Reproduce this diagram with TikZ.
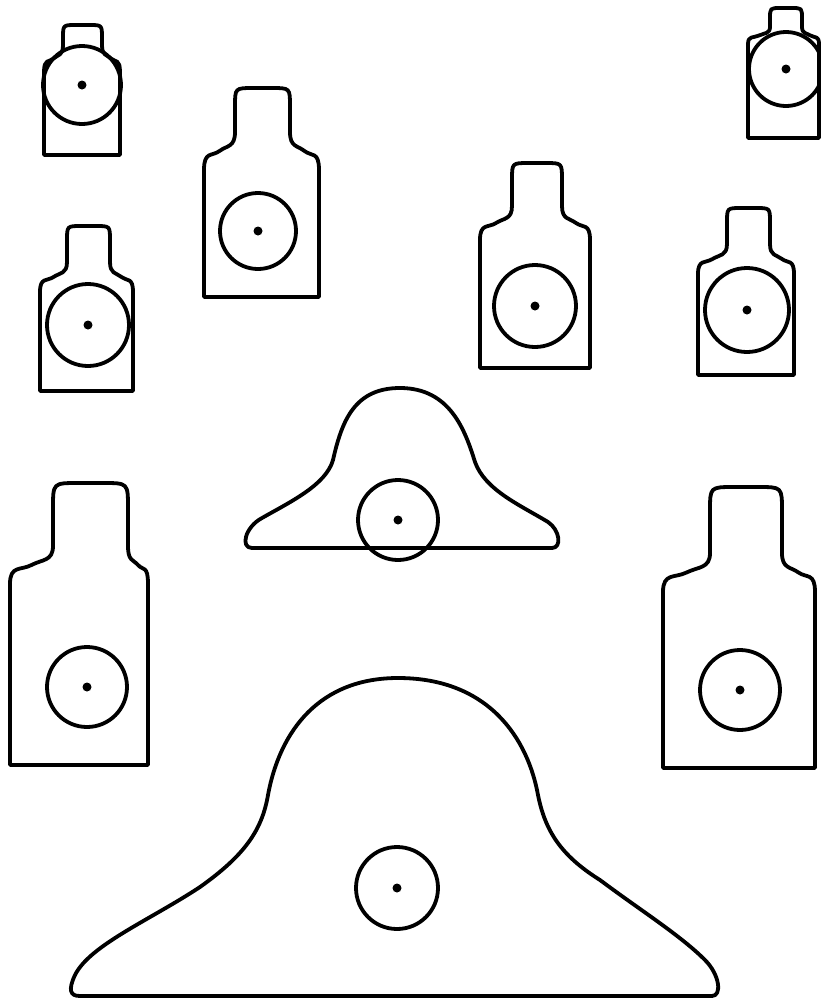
\documentclass[tikz,border=0pt]{standalone}
\usepackage{tikz}

% body xl xr, head hl hr, top, neck, shoulder, bottom
\newcommand{\silhouette}[8]{%
  \pgfmathsetmacro\dd{#7-#6}
  \pgfmathsetmacro\my{(#6+#7)/2}
  \pgfmathsetmacro\mxl{(#1+#3)/2}
  \pgfmathsetmacro\mxr{(#2+#4)/2}
  \pgfmathsetmacro\wl{#3-#1}
  \pgfmathsetmacro\wr{#2-#4}
  \pgfmathsetmacro\rr{(#4-#3)/3}
  \draw[outline] (#1,#8) -- (#1,#7)
    .. controls (#1,{#7-0.5*\dd}) and ({\mxl-0.25*\wl},{\my+0.15*\dd}) .. (\mxl,\my)
    .. controls ({\mxl+0.25*\wl},{\my-0.15*\dd}) and (#3,{#6+0.4*\dd}) .. (#3,#6)
    -- (#3,{#5+\rr})
    .. controls (#3,#5) .. ({#3+\rr},#5)
    -- ({#4-\rr},#5)
    .. controls (#4,#5) .. (#4,{#5+\rr})
    -- (#4,#6)
    .. controls (#4,{#6+0.4*\dd}) and ({\mxr-0.25*\wr},{\my-0.15*\dd}) .. (\mxr,\my)
    .. controls ({\mxr+0.25*\wr},{\my+0.15*\dd}) and (#2,{#7-0.5*\dd}) .. (#2,#7)
    -- (#2,#8) -- cycle;
}
% centre x, centre y, radius
\newcommand{\bullseye}[3]{%
  \draw[outline] (#1,#2) circle (#3);
  \fill (#1,#2) circle (4.5);
}

\begin{document}
\begin{tikzpicture}[x=1pt,y=-1pt,
  outline/.style={line width=3.8pt,line join=round}]

\useasboundingbox (0,0) rectangle (821,1002);

% Small targets, top row
\silhouette{44}{120}{63}{102}{25}{45}{72}{155}
\bullseye{82}{85}{39}
\silhouette{748}{819}{770}{802}{8}{27}{44}{138}
\bullseye{786}{69}{37}

% Bottle targets
\silhouette{204}{319}{235}{290}{88}{132}{170}{297}
\bullseye{258}{231}{38}
\silhouette{40}{133}{67}{110}{226}{262}{292}{391}
\bullseye{88}{325}{41}
\silhouette{480}{590}{512}{562}{163}{206}{240}{368}
\bullseye{535}{306}{41}
\silhouette{698}{794}{727}{770}{208}{244}{274}{375}
\bullseye{747}{310}{42}

% Large bottle targets
\silhouette{10}{148}{53}{128}{483}{546}{584}{765}
\bullseye{87}{687}{40}
\silhouette{663}{815}{710}{782}{487}{553}{592}{768}
\bullseye{740}{690}{40}

% Small hat
\draw[outline] (252,548) -- (552,548)
  .. controls (562,548) and (560,530) .. (548,522)
  .. controls (520,505) and (485,490) .. (475,462)
  .. controls (465,430) and (450,388) .. (400,388)
  .. controls (355,388) and (342,420) .. (333,460)
  .. controls (326,485) and (290,502) .. (262,518)
  .. controls (245,527) and (240,548) .. (252,548) -- cycle;
\bullseye{398}{520}{40}

% Large hat
\draw[outline] (80,996) -- (712,996)
  .. controls (722,996) and (720,975) .. (705,960)
  .. controls (680,935) and (640,910) .. (600,880)
  .. controls (560,855) and (545,830) .. (538,795)
  .. controls (528,740) and (490,678) .. (398,678)
  .. controls (320,678) and (280,730) .. (268,795)
  .. controls (262,830) and (245,855) .. (200,887)
  .. controls (150,920) and (90,945) .. (75,975)
  .. controls (68,990) and (70,996) .. (80,996) -- cycle;
\bullseye{397}{888}{41}

\end{tikzpicture}
\end{document}
